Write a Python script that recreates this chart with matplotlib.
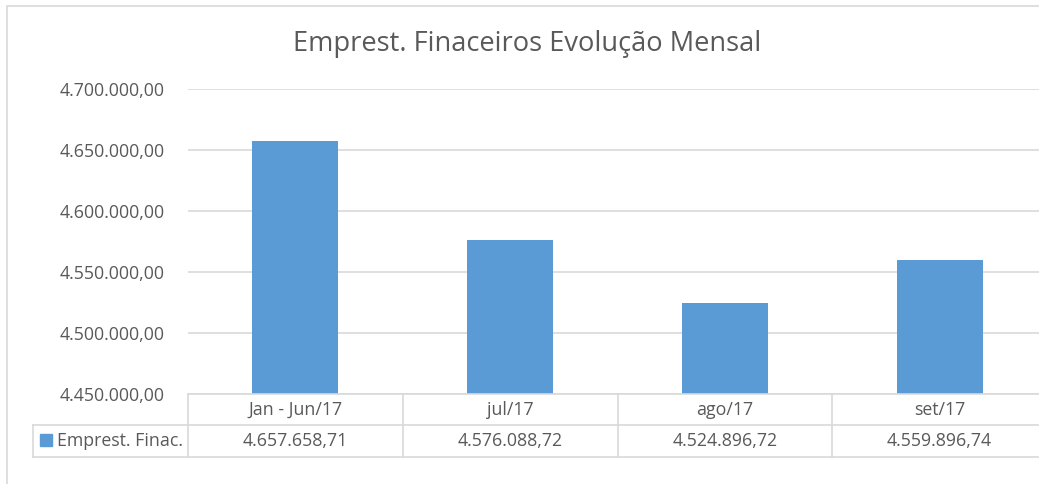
import matplotlib
matplotlib.use("Agg")
import matplotlib.pyplot as plt
from matplotlib.lines import Line2D
from matplotlib.patches import Rectangle
from matplotlib.ticker import FuncFormatter

categories = ["Jan - Jun/17", "jul/17", "ago/17", "set/17"]
values = [4657658.71, 4576088.72, 4524896.72, 4559896.74]
value_labels = ["4.657.658,71", "4.576.088,72", "4.524.896,72", "4.559.896,74"]
series_name = "Emprest. Finac."
title = "Emprest. Finaceiros Evolução Mensal"

W, H = 1039, 484
fig = plt.figure(figsize=(W / 100, H / 100), dpi=100)
plt.rcParams['font.family'] = ['Open Sans', 'DejaVu Sans']

bar_color = "#5B9BD5"
grid_color = "#D9D9D9"
text_color = "#595959"
fs = 12.8

def fx(px):
    return px / W

def fy(py):
    return 1 - py / H

# axes placement in pixels
ax_l, ax_r, ax_t, ax_b = 188, 1047, 89, 394
ax = fig.add_axes([fx(ax_l), fy(ax_b), fx(ax_r - ax_l), (ax_b - ax_t) / H])
x = list(range(len(categories)))
ax.bar(x, values, width=0.4, color=bar_color, zorder=3)
ax.set_xlim(-0.5, len(categories) - 0.5)
ax.set_ylim(4450000, 4700000)
ax.set_yticks([4450000, 4500000, 4550000, 4600000, 4650000, 4700000])
ax.yaxis.set_major_formatter(FuncFormatter(
    lambda v, p: f"{v:,.2f}".replace(",", "X").replace(".", ",").replace("X", ".")))
ax.grid(axis="y", color=grid_color, linewidth=1.2, zorder=0)
for s in ax.spines.values():
    s.set_visible(False)
ax.set_xticks([])
ax.tick_params(axis="y", length=0, pad=16.5, labelsize=fs, labelcolor=text_color)

# title
fig.text(fx(527), fy(44), title, ha="center", va="center", fontsize=19.6, color=text_color)

# chart border
fig.add_artist(Rectangle((fx(7), fy(490)), fx(1100), (490 - 6) / H, fill=False,
                         edgecolor=grid_color, linewidth=1.2, transform=fig.transFigure))

# data table
def hline(y, x0, x1):
    fig.add_artist(Line2D([fx(x0), fx(x1)], [fy(y), fy(y)], color=grid_color, linewidth=1.2))

def vline(xp, y0, y1):
    fig.add_artist(Line2D([fx(xp), fx(xp)], [fy(y0), fy(y1)], color=grid_color, linewidth=1.2))

col_w = (ax_r - ax_l) / len(categories)
hline(394, ax_l, W + 5)
hline(425, 33, W + 5)
hline(457, 33, W + 5)
vline(33, 425, 457)
for i in range(len(categories) + 1):
    vline(ax_l + i * col_w, 394, 457)
for i, (c, v) in enumerate(zip(categories, value_labels)):
    cx = ax_l + (i + 0.5) * col_w
    fig.text(fx(cx), fy(410), c, ha="center", va="center", fontsize=fs, color=text_color)
    fig.text(fx(cx), fy(441), v, ha="center", va="center", fontsize=fs, color=text_color)

fig.add_artist(Rectangle((fx(40), fy(446)), fx(12), 12 / H, color=bar_color,
                         transform=fig.transFigure))
fig.text(fx(57), fy(441), series_name, ha="left", va="center", fontsize=fs, color=text_color)

fig.savefig("out.png", dpi=100, facecolor="white")
